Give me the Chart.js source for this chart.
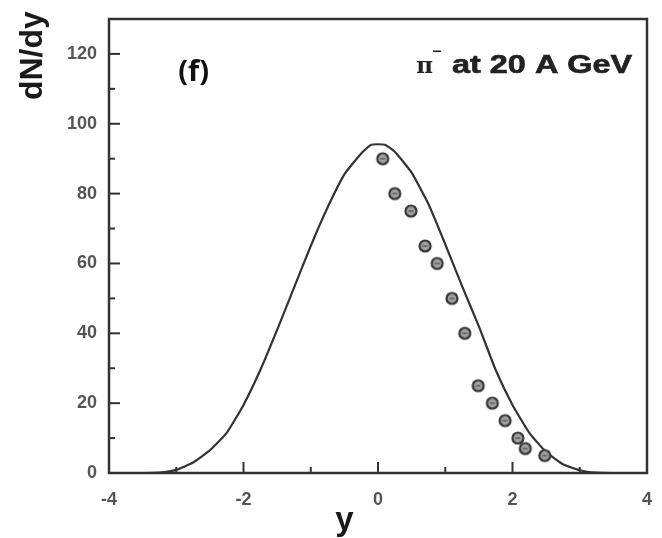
<!DOCTYPE html>
<html>
<head>
<meta charset="utf-8">
<script src="https://cdn.jsdelivr.net/npm/chart.js@4.4.1/dist/chart.umd.min.js"></script>
<style>
  html, body { margin: 0; padding: 0; background: #fff; }
  #wrap { width: 662px; height: 538px; }
</style>
</head>
<body>
<div id="wrap"><canvas id="myChart" width="662" height="538"></canvas></div>
<script>
// モデル曲線 (実線)
var curveX = [-4, -3.5, -3.25, -3, -2.75, -2.5, -2.25, -2, -1.75, -1.5, -1.25, -1, -0.75, -0.5, -0.25, -0.1,
              0.1, 0.25, 0.5, 0.75, 1, 1.25, 1.5, 1.75, 2, 2.25, 2.5, 2.75, 3, 3.25, 3.5, 4];
var curveY = [0, 0, 0.1, 0.9, 3, 6.5, 11.5, 19.5, 29.5, 41, 53, 65, 76, 85.5, 91.5, 94,
              94, 92, 86, 77, 65.5, 53.5, 42, 29.5, 19.5, 11.5, 6, 2.5, 0.8, 0.1, 0, 0];

// 実験データ (丸印)
var dataX = [0.07, 0.25, 0.49, 0.70, 0.88, 1.10, 1.29, 1.49, 1.70, 1.89, 2.08, 2.19, 2.48];
var dataY = [90, 80, 75, 65, 60, 50, 40, 25, 20, 15, 10, 7, 5];

// 目盛り
var xTicks = [-4, -2, 0, 2, 4];
var xMinor = [-3, -1, 1, 3];
var yTicks = [0, 20, 40, 60, 80, 100, 120];
var yMinor = [10, 30, 50, 70, 90, 110];

var axisColor = '#333';
var labelColor = '#555';

function toPoints(xs, ys) {
    var pts = [];
    for (var i = 0; i < xs.length; i++) {
        pts.push({ x: xs[i], y: ys[i] });
    }
    return pts;
}

// ⊖ 形のマーカー
function makeMarker() {
    var c = document.createElement('canvas');
    c.width = 16; c.height = 16;
    var g = c.getContext('2d');
    g.beginPath();
    g.arc(8, 8, 5.5, 0, Math.PI * 2);
    g.fillStyle = '#a0a0a0';
    g.fill();
    g.lineWidth = 2.2;
    g.strokeStyle = '#363636';
    g.stroke();
    g.beginPath();
    g.moveTo(5.5, 8);
    g.lineTo(10.5, 8);
    g.lineWidth = 1.2;
    g.strokeStyle = '#4a4a4a';
    g.stroke();
    return c;
}

// 枠・内向き目盛り・文字を描くプラグイン
var framePlugin = {
    id: 'frame',
    afterDraw: function(chart) {
        var ctx = chart.ctx;
        var a = chart.chartArea;
        var xs = chart.scales.x;
        var ys = chart.scales.y;
        ctx.save();
        ctx.strokeStyle = axisColor;
        ctx.lineWidth = 2.5;
        ctx.strokeRect(a.left, a.top, a.right - a.left, a.bottom - a.top);

        ctx.lineWidth = 2;
        function tickX(v, len) {
            var px = xs.getPixelForValue(v);
            ctx.beginPath();
            ctx.moveTo(px, a.bottom);
            ctx.lineTo(px, a.bottom - len);
            ctx.stroke();
        }
        function tickY(v, len) {
            var py = ys.getPixelForValue(v);
            ctx.beginPath();
            ctx.moveTo(a.left, py);
            ctx.lineTo(a.left + len, py);
            ctx.stroke();
        }
        xTicks.forEach(function(v) { tickX(v, 11); });
        xMinor.forEach(function(v) { tickX(v, 6); });
        yTicks.forEach(function(v) { tickY(v, 11); });
        yMinor.forEach(function(v) { tickY(v, 6); });

        // (f)
        ctx.fillStyle = '#111';
        ctx.font = 'bold 29px "Open Sans", Lato, sans-serif';
        ctx.textAlign = 'center';
        ctx.textBaseline = 'middle';
        ctx.fillText('(f)', xs.getPixelForValue(-2.74), ys.getPixelForValue(114.5));

        // π⁻ at 20 A GeV (横に広い字形)
        var left = xs.getPixelForValue(1.10);
        var right = xs.getPixelForValue(3.78);
        var base = ys.getPixelForValue(114.4);
        ctx.textBaseline = 'alphabetic';
        ctx.textAlign = 'left';
        ctx.fillStyle = '#222';
        ctx.font = 'bold 25px "Liberation Sans", Arial, sans-serif';
        var main = 'at 20 A GeV';
        var w = ctx.measureText(main).width;
        ctx.save();
        ctx.translate(left, base);
        ctx.scale((right - left) / w, 1);
        ctx.fillText(main, 0, 0);
        ctx.strokeStyle = '#222';
        ctx.lineWidth = 0.6;
        ctx.strokeText(main, 0, 0);
        ctx.restore();
        ctx.font = 'bold 23px "DejaVu Serif", serif';
        ctx.textAlign = 'right';
        ctx.fillText('\u03c0', left - 19, base);
        ctx.fillRect(left - 19, base - 23, 8, 1.6);

        // 軸タイトル
        ctx.fillStyle = '#1a1a1a';
        ctx.font = 'bold 33px "Liberation Sans", Arial, sans-serif';
        ctx.textAlign = 'center';
        ctx.textBaseline = 'middle';
        ctx.fillText('y', xs.getPixelForValue(-0.5), a.bottom + 48);

        ctx.translate(33, ys.getPixelForValue(119.5));
        ctx.rotate(-Math.PI / 2);
        ctx.font = 'bold 32px "Liberation Sans", Arial, sans-serif';
        ctx.fillText('dN/dy', 0, 0);
        ctx.restore();
    }
};

var ctx = document.getElementById('myChart').getContext('2d');
var myChart = new Chart(ctx, {
    type: 'scatter',
    data: {
        datasets: [{
            label: 'model',
            data: toPoints(curveX, curveY),
            showLine: true,
            borderColor: '#333',
            borderWidth: 2.2,
            pointRadius: 0,
            tension: 0.15,
            order: 2
        }, {
            label: 'data',
            data: toPoints(dataX, dataY),
            pointStyle: makeMarker(),
            pointRadius: 6,
            order: 1
        }]
    },
    options: {
        responsive: false,
        animation: false,
        events: [],
        layout: { padding: { top: 19, right: 15, left: 0, bottom: 0 } },
        plugins: {
            legend: { display: false },
            tooltip: { enabled: false }
        },
        scales: {
            x: {
                type: 'linear',
                min: -4,
                max: 4,
                afterBuildTicks: function(scale) {
                    scale.ticks = xTicks.map(function(v) { return { value: v }; });
                },
                afterFit: function(scale) {
                    scale.height = 65;
                    scale.paddingLeft = 0;
                    scale.paddingRight = 0;
                },
                grid: { display: false, drawTicks: false },
                border: { display: false },
                ticks: {
                    padding: 16,
                    color: labelColor,
                    font: { family: '"Liberation Sans", Arial, sans-serif', size: 18, weight: 'bold' }
                }
            },
            y: {
                type: 'linear',
                min: 0,
                max: 130,
                afterBuildTicks: function(scale) {
                    scale.ticks = yTicks.map(function(v) { return { value: v }; });
                },
                afterFit: function(scale) {
                    scale.width = 109;
                    scale.paddingTop = 0;
                    scale.paddingBottom = 0;
                },
                grid: { display: false, drawTicks: false },
                border: { display: false },
                ticks: {
                    padding: 12,
                    color: labelColor,
                    font: { family: '"Liberation Sans", Arial, sans-serif', size: 18, weight: 'bold' }
                }
            }
        }
    },
    plugins: [framePlugin]
});
</script>
</body>
</html>
